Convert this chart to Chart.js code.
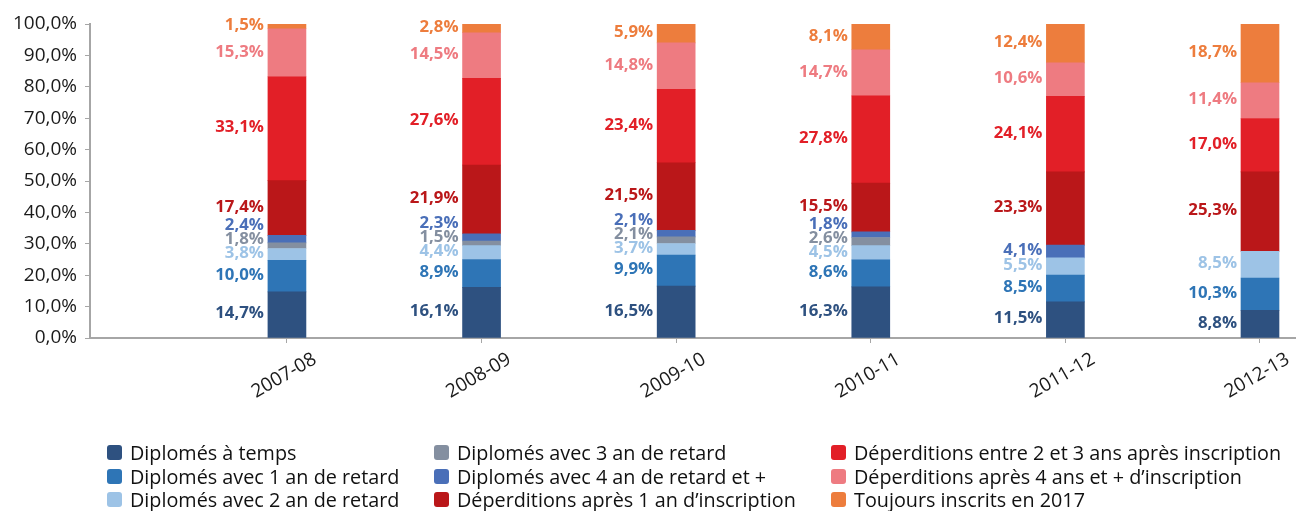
<!DOCTYPE html>
<html>
<head>
<meta charset="utf-8">
<script src="https://cdn.jsdelivr.net/npm/chart.js@4/dist/chart.umd.min.js"></script>
<style>
  html, body { margin: 0; padding: 0; background: #fff; }
  #wrap { position: relative; width: 1296px; height: 511px; }
  #chart { position: absolute; left: 0; top: 0; }
  #legend {
    position: absolute; left: 107px; top: 441px;
    display: grid;
    grid-template-columns: 327px 397px auto;
    grid-template-rows: repeat(3, 23.5px);
    grid-auto-flow: column;
    font-family: 'Open Sans', sans-serif; font-size: 19.8px; color: #111;
  }
  .item { display: flex; align-items: center; white-space: nowrap; }
  .box { width: 15px; height: 15px; border-radius: 3px; margin-right: 8px; flex: none; }
</style>
</head>
<body>
<div id="wrap">
  <canvas id="chart" width="1296" height="511"></canvas>
  <div id="legend"></div>
</div>
<script>
// Years (categories)
const years = ['2007-08', '2008-09', '2009-10', '2010-11', '2011-12', '2012-13'];

// Series values (%), bottom to top of each bar
const aTemps     = [14.7, 16.1, 16.5, 16.3, 11.5, 8.8];
const retard1    = [10.0, 8.9, 9.9, 8.6, 8.5, 10.3];
const retard2    = [3.8, 4.4, 3.7, 4.5, 5.5, 8.5];
const retard3    = [1.8, 1.5, 2.1, 2.6, null, null];
const retard4    = [2.4, 2.3, 2.1, 1.8, 4.1, null];
const deperd1    = [17.4, 21.9, 21.5, 15.5, 23.3, 25.3];
const deperd23   = [33.1, 27.6, 23.4, 27.8, 24.1, 17.0];
const deperd4    = [15.3, 14.5, 14.8, 14.7, 10.6, 11.4];
const toujours   = [1.5, 2.8, 5.9, 8.1, 12.4, 18.7];

const yTicks = [0, 10, 20, 30, 40, 50, 60, 70, 80, 90, 100];

const series = [
  { label: 'Diplomés à temps', data: aTemps, color: '#2E5180' },
  { label: 'Diplomés avec 1 an de retard', data: retard1, color: '#2E75B6' },
  { label: 'Diplomés avec 2 an de retard', data: retard2, color: '#9DC3E6' },
  { label: 'Diplomés avec 3 an de retard', data: retard3, color: '#848FA0' },
  { label: 'Diplomés avec 4 an de retard et +', data: retard4, color: '#4A6FB8' },
  { label: 'Déperditions après 1 an d\u2019inscription', data: deperd1, color: '#BA1719' },
  { label: 'Déperditions entre 2 et 3 ans après inscription', data: deperd23, color: '#E21F27' },
  { label: 'Déperditions après 4 ans et + d\u2019inscription', data: deperd4, color: '#EE7B81' },
  { label: 'Toujours inscrits en 2017', data: toujours, color: '#ED7D3D' }
];

const fmt = v => v.toFixed(1).replace('.', ',') + '%';

// value labels to the left of each segment, pushed up when they crowd
const sideLabels = {
  id: 'sideLabels',
  afterDatasetsDraw(chart) {
    const ctx = chart.ctx;
    ctx.save();
    ctx.font = "bold 16.8px 'Open Sans', sans-serif";
    ctx.textAlign = 'right';
    ctx.textBaseline = 'middle';
    years.forEach((_, i) => {
      let prevY = Infinity;
      chart.data.datasets.forEach((ds, d) => {
        const v = series[d].data[i];
        if (v == null) return;
        const el = chart.getDatasetMeta(d).data[i];
        let y = (el.y + el.base) / 2 - 1;
        y = Math.min(y, prevY - 14);
        prevY = y;
        ctx.fillStyle = series[d].color;
        ctx.fillText(fmt(v), el.x - el.width / 2 - 4, y);
      });
    });
    ctx.restore();
  }
};

const chart = new Chart(document.getElementById('chart'), {
  type: 'bar',
  data: {
    datasets: series.map(s => ({
      label: s.label,
      data: s.data.map((v, i) => ({ x: i + 1, y: v })),
      backgroundColor: s.color,
      barThickness: 38
    }))
  },
  options: {
    responsive: false,
    animation: false,
    layout: { padding: { top: 24, right: 0, left: 0, bottom: 0 } },
    plugins: { legend: { display: false }, tooltip: { enabled: false } },
    scales: {
      x: {
        type: 'linear',
        stacked: true,
        offset: false,
        min: -0.012,
        max: 6.185,
        afterBuildTicks: scale => { scale.ticks = years.map((_, i) => ({ value: i + 1 })); },
        afterFit: scale => { scale.height = 173; },
        grid: { offset: false, drawOnChartArea: false, drawTicks: true, tickLength: 5, color: '#A6A6A6' },
        border: { color: '#A6A6A6', width: 2 },
        ticks: {
          autoSkip: false,
          minRotation: 30, maxRotation: 30,
          labelOffset: 28,
          padding: 5,
          color: '#1a1a1a',
          font: { family: "'Open Sans', sans-serif", size: 19 },
          callback: v => years[v - 1]
        }
      },
      y: {
        stacked: true,
        min: 0, max: 100,
        afterBuildTicks: scale => { scale.ticks = yTicks.map(v => ({ value: v })); },
        afterFit: scale => { scale.width = 90; },
        grid: { drawOnChartArea: false, drawTicks: true, tickLength: 5, color: '#A6A6A6' },
        border: { color: '#A6A6A6', width: 2 },
        ticks: {
          padding: 8,
          color: '#1a1a1a',
          font: { family: "'Open Sans', sans-serif", size: 19 },
          callback: v => fmt(v)
        }
      }
    }
  },
  plugins: [sideLabels]
});

// Legend in three columns
const legend = document.getElementById('legend');
series.forEach(s => {
  const item = document.createElement('div');
  item.className = 'item';
  item.innerHTML = `<span class="box" style="background:${s.color}"></span><span>${s.label}</span>`;
  legend.appendChild(item);
});
</script>
</body>
</html>
